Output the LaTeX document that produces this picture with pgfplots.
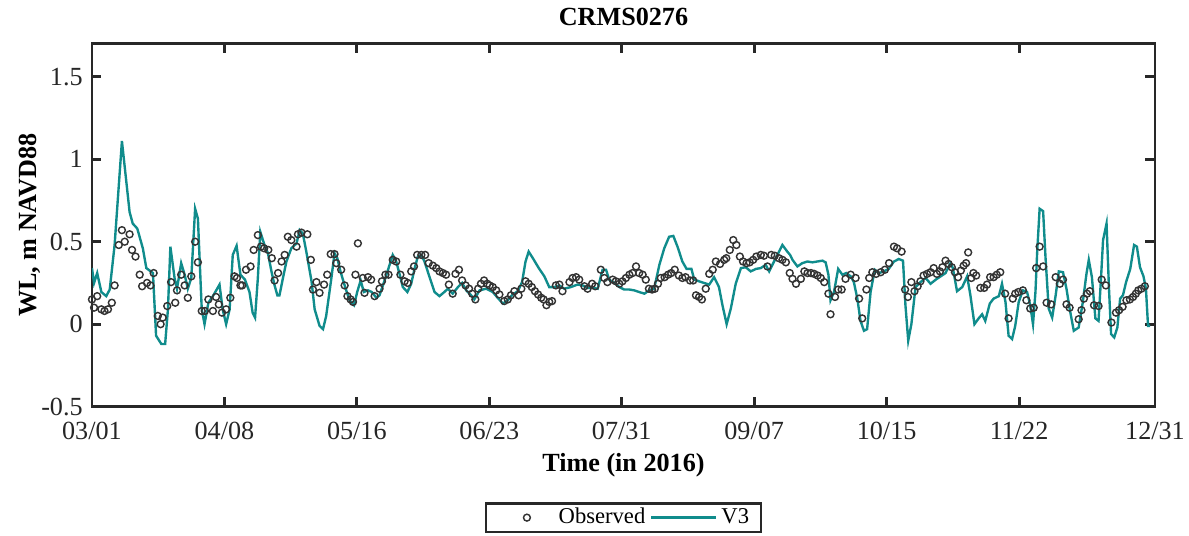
\documentclass[border=0pt]{standalone}
\usepackage{fontspec}
\setmainfont{Liberation Serif}
\usepackage{pgfplots}
\usepackage{pgfplotstable}
\pgfplotsset{compat=1.18}

\definecolor{vteal}{RGB}{16,140,140}
\definecolor{framegray}{RGB}{40,40,40}

\pgfplotsset{
  obsmark legend/.style={legend image code/.code={%
    \pgfpathmoveto{\pgfpointorigin}\pgfpathlineto{\pgfpoint{0.9cm}{0cm}}\pgfusepath{discard}%
    \draw[mark repeat=2, mark phase=2, ##1] plot coordinates {(0cm,0cm) (0.5cm,0cm) (1cm,0cm)};}},
  vthree legend/.style={legend image code/.code={\draw[##1] (0cm,0cm) -- (0.95cm,0cm);}},
}

% day since 03/01/2016, water level (m NAVD88)
\pgfplotstableread{
d v
0 0.15
0.6 0.10
1.5 0.17
2.7 0.09
3.6 0.08
4.6 0.09
5.7 0.13
6.5 0.235
7.7 0.48
8.6 0.57
9.4 0.50
10.8 0.545
11.5 0.45
12.5 0.41
13.7 0.30
14.4 0.23
15.8 0.25
16.8 0.235
17.7 0.31
18.9 0.05
19.7 0.0
20.3 0.04
21.6 0.11
22.7 0.255
23.9 0.13
24.4 0.205
25.6 0.30
26.6 0.235
27.5 0.16
28.5 0.29
29.6 0.50
30.4 0.375
31.5 0.08
32.4 0.08
33.4 0.15
34.7 0.08
35.6 0.165
36.4 0.12
37.3 0.07
38.5 0.09
39.7 0.16
40.9 0.29
41.6 0.28
42.6 0.235
43.1 0.235
44.2 0.33
45.5 0.35
46.4 0.45
47.6 0.54
48.5 0.47
49.4 0.46
50.6 0.45
51.6 0.40
52.4 0.265
53.4 0.31
54.4 0.38
55.3 0.42
56.2 0.53
57.2 0.51
58.7 0.47
59.1 0.545
60.1 0.555
61.8 0.545
62.8 0.39
63.4 0.21
64.4 0.255
65.3 0.19
66.6 0.24
67.5 0.30
68.5 0.425
69.6 0.425
70.1 0.37
71.5 0.33
72.5 0.235
73.3 0.17
74.2 0.15
74.9 0.135
75.6 0.30
76.3 0.49
77.7 0.28
78.2 0.19
79.2 0.285
80.1 0.27
81.1 0.17
82.5 0.215
83.2 0.26
84.2 0.30
85.1 0.30
86.3 0.39
87.3 0.38
88.5 0.30
89.7 0.26
90.6 0.25
91.6 0.32
92.4 0.35
93.3 0.42
94.5 0.42
95.6 0.42
96.6 0.37
97.8 0.355
98.8 0.34
99.7 0.32
100.7 0.31
101.6 0.30
102.4 0.24
103.5 0.185
104.3 0.305
105.3 0.33
106.2 0.265
107.2 0.235
108.2 0.215
109.1 0.185
110.0 0.15
110.8 0.215
111.6 0.245
112.5 0.265
113.4 0.245
114.1 0.235
115.0 0.225
116.0 0.205
116.9 0.18
118.3 0.14
119.3 0.15
120.2 0.175
121.2 0.20
122.4 0.175
123.2 0.215
124.4 0.26
125.3 0.245
126.2 0.225
127.1 0.20
128.0 0.18
128.9 0.16
129.6 0.15
130.4 0.115
131.2 0.135
132.0 0.14
133.1 0.235
134.1 0.24
135.0 0.20
137.0 0.255
137.9 0.28
138.9 0.285
139.8 0.27
141.3 0.23
142.2 0.215
143.5 0.245
144.4 0.23
146.0 0.33
147.0 0.28
147.9 0.255
149.4 0.27
150.3 0.26
151.3 0.245
152.2 0.26
153.2 0.28
154.2 0.30
155.1 0.31
156.1 0.35
157.0 0.31
158.0 0.30
158.9 0.27
159.8 0.215
160.7 0.21
161.5 0.215
162.4 0.245
163.2 0.28
164.3 0.285
165.3 0.30
166.2 0.31
167.2 0.33
168.4 0.295
169.4 0.28
170.3 0.285
171.6 0.265
172.5 0.265
173.3 0.175
174.2 0.165
175.0 0.15
176.1 0.215
177.1 0.305
178.1 0.33
179.0 0.38
180.2 0.365
181.4 0.39
182.0 0.40
183.0 0.45
184.0 0.51
184.9 0.48
185.9 0.41
186.8 0.38
187.8 0.37
188.7 0.375
189.7 0.39
190.6 0.41
191.9 0.42
192.8 0.415
193.8 0.35
194.9 0.42
195.9 0.415
197.1 0.40
198.1 0.39
199.1 0.375
200.2 0.31
201.0 0.275
202.0 0.245
203.4 0.275
204.4 0.32
205.3 0.31
206.3 0.31
207.2 0.305
208.2 0.295
209.1 0.28
210.1 0.255
211.3 0.185
211.9 0.06
213.2 0.165
214.1 0.21
215.1 0.21
216.2 0.275
217.7 0.30
219.1 0.28
220.1 0.155
221.0 0.035
222.2 0.21
223.0 0.28
223.9 0.315
225.0 0.305
226.3 0.315
227.5 0.33
228.7 0.37
230.1 0.47
231.0 0.46
232.3 0.44
233.3 0.21
234.1 0.165
235.1 0.255
236.0 0.20
236.9 0.23
237.7 0.26
238.6 0.295
239.6 0.305
240.6 0.315
241.5 0.34
242.4 0.305
243.3 0.32
244.0 0.345
244.9 0.385
245.8 0.365
246.7 0.345
247.6 0.315
248.5 0.285
249.3 0.325
250.1 0.355
250.8 0.37
251.4 0.435
252.3 0.28
252.9 0.31
253.7 0.295
254.9 0.22
256.0 0.22
256.8 0.24
257.7 0.285
258.7 0.285
259.6 0.30
260.6 0.315
262.0 0.185
263.0 0.035
264.2 0.155
264.9 0.185
265.8 0.195
267.1 0.205
268.1 0.145
269.2 0.095
270.2 0.10
270.9 0.34
271.9 0.47
272.9 0.35
273.9 0.13
275.2 0.12
276.5 0.285
277.7 0.245
278.6 0.27
279.6 0.12
280.5 0.10
283.1 0.03
283.9 0.085
284.6 0.155
285.5 0.185
286.3 0.20
287.5 0.115
288.8 0.11
289.7 0.27
290.9 0.235
292.5 0.01
293.8 0.07
294.7 0.085
295.7 0.105
296.8 0.145
297.8 0.15
298.7 0.165
299.5 0.185
300.2 0.205
301.1 0.215
302.1 0.23
}\obs

\pgfplotstableread{
d v
0 0.34
0.6 0.25
1.5 0.31
2.7 0.195
4.1 0.17
5.1 0.21
6.5 0.48
8.6 1.11
10.8 0.68
11.7 0.61
13.0 0.58
14.6 0.46
15.6 0.34
17.5 0.31
18.4 -0.07
19.9 -0.12
21.0 -0.12
21.8 0.09
22.5 0.47
23.7 0.28
24.4 0.215
25.6 0.37
26.6 0.30
27.5 0.215
28.5 0.28
29.6 0.70
30.4 0.64
31.5 0.09
32.3 0.0
33.4 0.13
34.7 0.17
36.6 0.24
37.5 0.09
38.5 0.0
39.5 0.09
40.4 0.42
41.5 0.475
42.6 0.30
43.9 0.27
45.2 0.195
46.1 0.07
46.8 0.04
47.6 0.28
48.3 0.56
49.5 0.48
50.5 0.43
51.5 0.32
52.4 0.235
53.2 0.175
53.8 0.175
54.8 0.28
55.8 0.38
57.2 0.46
58.7 0.49
59.6 0.57
60.5 0.55
61.5 0.44
63.0 0.26
63.9 0.09
65.3 -0.01
66.3 -0.03
67.2 0.05
68.7 0.28
69.6 0.43
70.4 0.40
71.3 0.32
72.5 0.235
73.9 0.145
75.2 0.115
76.1 0.195
77.1 0.265
78.0 0.195
79.2 0.205
80.3 0.195
81.6 0.16
82.5 0.175
83.8 0.255
85.1 0.34
86.3 0.42
87.3 0.38
88.3 0.30
89.2 0.225
90.5 0.195
91.6 0.245
92.6 0.34
93.5 0.41
94.5 0.42
95.4 0.38
96.8 0.29
98.3 0.195
99.7 0.17
101.1 0.195
102.1 0.215
103.5 0.185
105.0 0.225
106.2 0.25
107.4 0.205
108.8 0.175
109.7 0.15
111.2 0.205
113.1 0.215
115.0 0.195
116.4 0.16
117.9 0.125
119.3 0.145
120.7 0.18
122.2 0.20
123.4 0.255
124.4 0.38
125.3 0.44
126.5 0.40
128.2 0.34
129.8 0.29
131.2 0.225
132.7 0.225
134.1 0.235
135.5 0.215
137.4 0.225
139.3 0.24
140.8 0.235
142.2 0.22
143.6 0.22
145.1 0.215
146.5 0.33
147.5 0.33
148.4 0.27
149.9 0.25
151.3 0.225
152.7 0.21
154.2 0.21
155.6 0.205
157.0 0.195
158.5 0.185
159.9 0.205
161.3 0.215
162.8 0.36
164.2 0.46
165.6 0.53
166.8 0.535
168.0 0.47
169.4 0.38
170.6 0.335
172.0 0.335
172.8 0.27
174.2 0.26
175.6 0.25
177.1 0.24
178.5 0.285
179.9 0.225
180.9 0.115
182.1 0.0
183.3 0.095
184.7 0.245
186.2 0.34
187.6 0.345
189.0 0.32
190.5 0.335
191.9 0.34
193.3 0.36
194.3 0.32
195.7 0.38
198.1 0.48
199.5 0.44
200.3 0.42
201.0 0.39
202.4 0.35
203.8 0.37
205.3 0.38
206.7 0.375
208.1 0.38
209.6 0.385
210.5 0.375
211.3 0.30
211.9 0.145
212.9 0.195
214.1 0.335
215.3 0.30
216.4 0.31
217.7 0.29
218.6 0.255
219.6 0.155
220.5 0.02
221.5 -0.04
222.4 -0.03
223.4 0.195
224.6 0.33
225.8 0.31
227.2 0.32
228.6 0.335
230.1 0.38
231.5 0.395
232.7 0.385
233.4 0.115
234.2 -0.10
235.1 0.0
236.3 0.225
237.7 0.255
239.2 0.28
240.6 0.245
242.1 0.27
243.5 0.29
244.9 0.31
246.3 0.37
247.0 0.34
248.2 0.20
249.7 0.225
251.1 0.29
252.0 0.18
253.2 0.0
254.4 0.035
255.4 0.06
256.3 0.02
257.6 0.125
258.7 0.155
260.2 0.17
261.1 0.245
262.1 0.135
263.0 -0.07
264.0 -0.09
264.9 -0.01
265.9 0.135
267.1 0.205
268.3 0.195
269.2 0.115
270.0 0.0
270.7 0.195
271.2 0.44
271.9 0.70
272.9 0.685
273.6 0.40
274.5 0.095
275.5 0.04
276.5 0.175
277.4 0.32
278.6 0.315
279.6 0.215
280.5 0.095
281.7 -0.04
283.1 -0.02
284.3 0.135
285.3 0.30
286.0 0.39
286.9 0.285
287.9 0.035
288.8 0.02
289.5 0.275
290.1 0.51
291.1 0.61
291.8 0.215
292.4 -0.06
293.3 -0.08
294.2 -0.02
295.0 0.155
295.8 0.175
296.7 0.255
297.9 0.335
299.0 0.48
299.8 0.47
300.7 0.345
301.7 0.29
302.4 0.215
303.0 -0.01
303.6 -0.01
}\vthree

\begin{document}
\begin{tikzpicture}
\begin{axis}[
    width=447pt, height=152.6pt, scale only axis,
    xmin=0, xmax=305, ymin=-0.5, ymax=1.7,
    xtick={0,38,76,114,152,190,228,266,305},
    xticklabels={03/01,04/08,05/16,06/23,07/31,09/07,10/15,11/22,12/31},
    ytick={-0.5,0,0.5,1,1.5},
    yticklabels={-0.5,0,0.5,1,1.5},
    tick align=inside,
    major tick length=4pt,
    axis line style={draw=framegray, line width=1.2pt},
    every tick/.style={framegray, line width=1.2pt},
    tick label style={font=\fontsize{11}{13}\selectfont, text=black!85},
    xticklabel style={inner sep=1pt, yshift=-5.5pt},
    yticklabel style={inner sep=1pt, xshift=-2.7pt},
    title={CRMS0276},
    title style={font=\fontsize{11}{13}\selectfont\bfseries, at={(0.5,1.0744)}, anchor=center, yshift=-6pt},
    xlabel={Time (in 2016)},
    ylabel={WL, m NAVD88},
    label style={font=\fontsize{11}{13}\selectfont\bfseries},
    xlabel style={at={(0.5,-0.160)}, anchor=center},
    ylabel style={at={(-0.0584,0.5)}, anchor=center},
    legend columns=2,
    legend style={at={(0.5,-0.3058)}, anchor=center, draw=framegray, line width=1.2pt,
        font=\fontsize{9.5}{11}\selectfont, inner xsep=3pt, inner ysep=0pt,
        nodes={inner ysep=2pt},
        /tikz/every even column/.append style={column sep=0pt}},
]
\addplot[only marks, mark=o, mark size=1.45pt, draw=black!80, mark options={line width=0.6pt}, obsmark legend]
    table[x=d, y=v] {\obs};
\addlegendentry{Observed}
\addplot[vteal, line width=1pt, no marks, vthree legend]
    table[x=d, y=v] {\vthree};
\addlegendentry{V3}
\coordinate (bbsw) at (rel axis cs:-0.0865,-0.3554);
\coordinate (bbne) at (rel axis cs:1.032,1.1157);
\end{axis}
\path (bbsw) rectangle (bbne);
\end{tikzpicture}
\end{document}
